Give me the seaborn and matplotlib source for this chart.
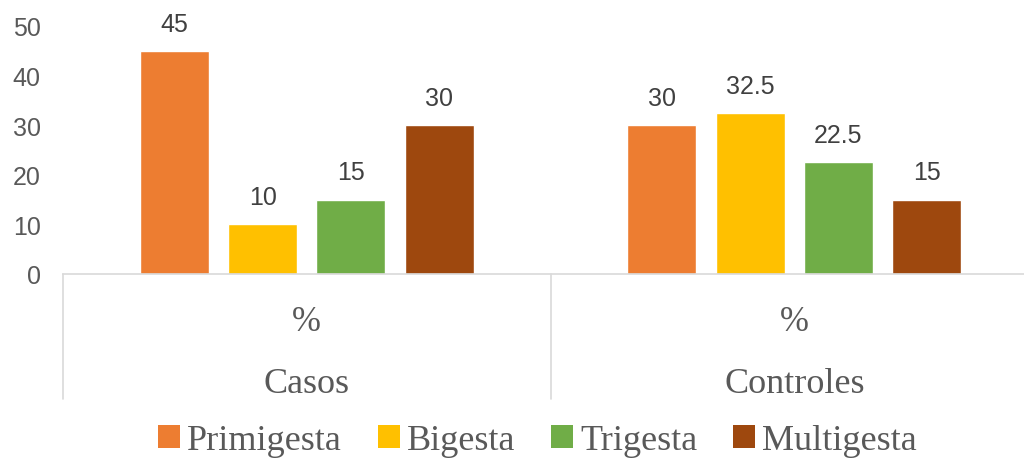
import pandas as pd
import seaborn as sns
import matplotlib.pyplot as plt
import matplotlib.transforms as mtransforms
from matplotlib.patches import Patch

groups = ["Casos", "Controles"]
sublabel = "%"
types = ["Primigesta", "Bigesta", "Trigesta", "Multigesta"]
casos = [45, 10, 15, 30]
controles = [30, 32.5, 22.5, 15]
colors = ["#ED7D31", "#FFC000", "#70AD47", "#9E480E"]

df = pd.DataFrame({
    "Grupo": [groups[0]] * 4 + [groups[1]] * 4,
    "Tipo": types * 2,
    "Valor": casos + controles,
})

sns.set_theme(style="white")
plt.rcParams["font.family"] = ["Liberation Sans", "DejaVu Sans"]

fig = plt.figure(figsize=(10.24, 4.64), dpi=100)
ax = fig.add_axes([63 / 1024, 189 / 464, 975 / 1024, 248 / 464])

sns.barplot(data=df, x="Grupo", y="Valor", hue="Tipo", hue_order=types,
            palette=colors, width=0.725, gap=0.22, legend=False, ax=ax,
            saturation=1)

for cont in ax.containers:
    ax.bar_label(cont, labels=[f"{v:g}" for v in cont.datavalues], padding=11,
                 fontsize=18, color="#404040")

ax.set_xlim(-0.5, 1.5)
ax.set_ylim(0, 50)
ax.set_yticks(range(0, 51, 10))
ax.tick_params(axis="y", length=0, pad=16, labelsize=18, labelcolor="#595959")
ax.set_ylabel("")
ax.set_xlabel("")
for s in ["top", "right", "left"]:
    ax.spines[s].set_visible(False)
ax.spines["bottom"].set_color("#D9D9D9")
ax.spines["bottom"].set_linewidth(1.2)

# first level: "%" under each group
ax.set_xticks(range(len(groups)))
ax.set_xticklabels([sublabel] * len(groups), fontsize=25, family="Liberation Serif",
                   color="#595959")
ax.tick_params(axis="x", length=0, pad=22)

trans = mtransforms.blended_transform_factory(ax.transData, ax.transAxes)
for i, g in enumerate(groups):
    ax.text(i, -0.44, g, transform=trans, ha="center", va="center",
            fontsize=26, family="Liberation Serif", color="#595959")
for xb in [-0.5, 0.5, 1.5]:
    ax.plot([xb, xb], [0, -0.505], transform=trans, color="#D9D9D9", lw=1.2,
            clip_on=False)

handles = [Patch(facecolor=c, edgecolor="none") for c in colors]
fig.legend(handles, types, loc="center", bbox_to_anchor=(0.525, 0.048), ncol=4,
           frameon=False, prop={"family": "Liberation Serif", "size": 26},
           handlelength=0.6, handleheight=0.6, handletextpad=0.2,
           columnspacing=1.0, labelcolor="#595959")

fig.savefig("out.png", dpi=100)
